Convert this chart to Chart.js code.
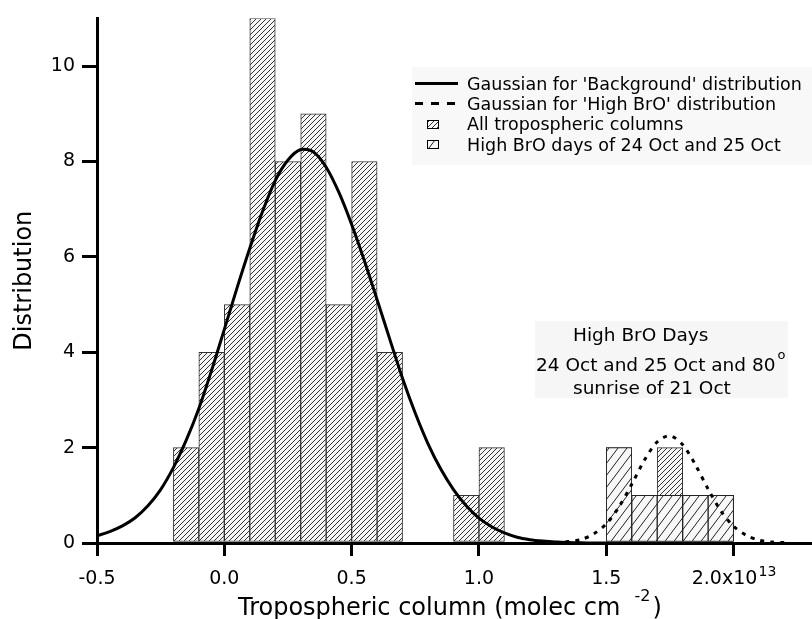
<!DOCTYPE html>
<html>
<head>
<meta charset="utf-8">
<script src="https://cdn.jsdelivr.net/npm/chart.js@4.4.0/dist/chart.umd.min.js"></script>
<style>
    body { margin: 0; background: #fff; }
    #wrap { width: 812px; height: 619px; }
</style>
</head>
<body>
<div id="wrap"><canvas id="histChart" width="812" height="619"></canvas></div>
<script>
// Histogram bins (left edge, 0.1 wide) and counts, units of 1e13 molec cm-2
const allBinStart = [-0.2, -0.1, 0.0, 0.1, 0.2, 0.3, 0.4, 0.5, 0.6, 0.9, 1.0, 1.5, 1.6, 1.7, 1.8, 1.9];
const allCounts   = [2, 4, 5, 11, 8, 9, 5, 8, 4, 1, 2, 2, 1, 2, 1, 1];
const highBinStart = [1.5, 1.6, 1.7, 1.8, 1.9];
const highCounts   = [2, 1, 1, 1, 1];

// Gaussian fits
const bgGaussX = [-0.5, -0.45, -0.4, -0.35, -0.3, -0.25, -0.2, -0.15, -0.1, -0.05, 0.0, 0.05, 0.1, 0.15, 0.2, 0.25, 0.3, 0.35, 0.4, 0.45, 0.5, 0.55, 0.6, 0.65, 0.7, 0.75, 0.8, 0.85, 0.9, 0.95, 1.0, 1.05, 1.1, 1.15, 1.2, 1.25, 1.3, 1.35, 1.4, 1.45, 1.5];
const bgGaussY = [0.15, 0.24, 0.36, 0.53, 0.78, 1.12, 1.58, 2.15, 2.82, 3.62, 4.48, 5.35, 6.18, 6.95, 7.6, 8.03, 8.25, 8.2, 7.88, 7.35, 6.68, 5.92, 5.1, 4.27, 3.45, 2.72, 2.08, 1.55, 1.12, 0.78, 0.52, 0.34, 0.21, 0.12, 0.07, 0.04, 0.02, 0.01, 0.005, 0.0, 0.0];
const highGaussX = [1.3, 1.35, 1.4, 1.45, 1.5, 1.55, 1.6, 1.65, 1.7, 1.75, 1.8, 1.85, 1.9, 1.95, 2.0, 2.05, 2.1, 2.15, 2.2];
const highGaussY = [0.01, 0.03, 0.07, 0.19, 0.4, 0.76, 1.23, 1.74, 2.12, 2.25, 2.06, 1.64, 1.13, 0.67, 0.35, 0.16, 0.06, 0.02, 0.01];

const xTickValues = [-0.5, 0.0, 0.5, 1.0, 1.5, 2.0];
const xTickLabels = ['-0.5', '0.0', '0.5', '1.0', '1.5', '2.0x10   '];
const yTickValues = [0, 2, 4, 6, 8, 10];
const yTickLabels = ['0', '2', '4', '6', '8', '10'];

const FONT = 'DejaVu Sans';
Chart.defaults.font.family = FONT;
Chart.defaults.color = '#000';

// hatch fill: "/" lines on a light background
function makeHatch(w, h, lineColor, bg) {
    const c = document.createElement('canvas');
    c.width = w; c.height = h;
    const g = c.getContext('2d');
    g.fillStyle = bg;
    g.fillRect(0, 0, w, h);
    g.strokeStyle = lineColor;
    g.lineWidth = 1;
    g.beginPath();
    for (const k of [-1, 0, 1]) {
        g.moveTo(k * w, h);
        g.lineTo((k + 1) * w, 0);
    }
    g.stroke();
    return g.createPattern(c, 'repeat');
}
const denseHatch = makeHatch(5, 5, '#333', '#f6f6f6');
const coarseHatch = makeHatch(9, 12, '#222', '#f8f8f8');

const toBars = (starts, counts) => starts.map((s, i) => ({ x: Math.round((s + 0.05) * 100) / 100, y: counts[i] }));
const toLine = (xs, ys) => xs.map((x, i) => ({ x: x, y: ys[i] }));

// legend, annotation box, x-axis title and superscripts
const extrasPlugin = {
    id: 'extras',
    afterDraw(chart) {
        const ctx = chart.ctx;
        const xs = chart.scales.x;
        ctx.save();

        // legend
        ctx.fillStyle = '#f8f8f8';
        ctx.fillRect(412, 67, 400, 98);
        ctx.strokeStyle = '#000';
        ctx.lineWidth = 3;
        ctx.beginPath();
        ctx.moveTo(415, 83.5); ctx.lineTo(458, 83.5);
        ctx.stroke();
        ctx.setLineDash([8, 8]);
        ctx.beginPath();
        ctx.moveTo(415, 103.5); ctx.lineTo(458, 103.5);
        ctx.stroke();
        ctx.setLineDash([]);
        ctx.lineWidth = 1;
        ctx.fillStyle = denseHatch;
        ctx.fillRect(427, 120, 12, 9);
        ctx.strokeRect(427.5, 120.5, 11, 8);
        ctx.fillStyle = coarseHatch;
        ctx.fillRect(427, 140, 12, 9);
        ctx.strokeRect(427.5, 140.5, 11, 8);

        ctx.fillStyle = '#000';
        ctx.font = '17.5px "' + FONT + '"';
        ctx.textBaseline = 'alphabetic';
        ctx.textAlign = 'left';
        ctx.fillText("Gaussian for 'Background' distribution", 467, 90);
        ctx.fillText("Gaussian for 'High BrO' distribution", 467, 110);
        ctx.fillText('All tropospheric columns', 467, 130);
        ctx.fillText('High BrO days of 24 Oct and 25 Oct', 467, 151);

        // annotation box
        ctx.fillStyle = '#f6f6f6';
        ctx.fillRect(535, 321, 253, 77);
        ctx.fillStyle = '#000';
        ctx.font = '18.5px "' + FONT + '"';
        ctx.fillText('High BrO Days', 573, 341);
        const line2 = '24 Oct and 25 Oct and 80';
        ctx.fillText(line2, 536, 371);
        const w2 = ctx.measureText(line2).width;
        ctx.fillText('sunrise of 21 Oct', 573, 394);
        ctx.font = '13px "' + FONT + '"';
        ctx.fillText('o', 536 + w2 + 2, 359);

        // x tick superscript
        ctx.font = '14px "' + FONT + '"';
        ctx.fillText('13', xs.getPixelForValue(2.0) + 25, 576);

        // x-axis title with superscript
        ctx.font = '24px "' + FONT + '"';
        const t1 = 'Tropospheric column (molec cm';
        ctx.fillText(t1, 238, 615);
        const tw = ctx.measureText(t1).width;
        ctx.font = '16px "' + FONT + '"';
        ctx.fillText('-2', 238 + tw + 14, 601);
        ctx.font = '24px "' + FONT + '"';
        ctx.fillText(')', 238 + tw + 32, 615);

        ctx.restore();
    }
};

new Chart(document.getElementById('histChart'), {
    type: 'bar',
    data: {
        datasets: [
            {
                type: 'line',
                label: "Gaussian for 'Background' distribution",
                data: toLine(bgGaussX, bgGaussY),
                borderColor: '#000',
                borderWidth: 3,
                pointRadius: 0,
                tension: 0.3,
                fill: false,
                order: 0
            },
            {
                type: 'line',
                label: "Gaussian for 'High BrO' distribution",
                data: toLine(highGaussX, highGaussY),
                borderColor: '#000',
                borderWidth: 3,
                borderDash: [4, 6],
                pointRadius: 0,
                tension: 0.3,
                fill: false,
                order: 0
            },
            {
                label: 'High BrO days of 24 Oct and 25 Oct',
                data: toBars(highBinStart, highCounts),
                backgroundColor: coarseHatch,
                borderColor: '#222',
                borderWidth: 1,
                borderSkipped: false,
                barPercentage: 1,
                categoryPercentage: 1,
                grouped: false,
                order: 1
            },
            {
                label: 'All tropospheric columns',
                data: toBars(allBinStart, allCounts),
                backgroundColor: denseHatch,
                borderColor: '#333',
                borderWidth: 1,
                borderSkipped: false,
                barPercentage: 1,
                categoryPercentage: 1,
                grouped: false,
                order: 2
            }
        ]
    },
    options: {
        responsive: false,
        animation: false,
        devicePixelRatio: 1,
        layout: { padding: { left: 0, right: 2, top: 13, bottom: 0 } },
        plugins: {
            legend: { display: false },
            tooltip: { enabled: false }
        },
        scales: {
            x: {
                type: 'linear',
                offset: false,
                min: -0.5,
                max: 2.3,
                afterBuildTicks: s => { s.ticks = xTickValues.map(v => ({ value: v })); },
                afterFit: s => { s.height = 76; },
                ticks: {
                    callback: (v, i) => xTickLabels[i],
                    font: { size: 19 },
                    color: '#000',
                    padding: 12,
                    maxRotation: 0,
                    autoSkip: false
                },
                grid: { offset: false, drawOnChartArea: false, drawTicks: true, tickLength: 13, tickWidth: 3, lineWidth: 3, tickColor: '#000' },
                border: { display: true, color: '#000', width: 3 }
            },
            y: {
                min: 0,
                max: 11,
                afterBuildTicks: s => { s.ticks = yTickValues.map(v => ({ value: v })); },
                afterFit: s => { s.width = 97; },
                ticks: {
                    callback: (v, i) => yTickLabels[i],
                    font: { size: 19 },
                    color: '#000',
                    padding: 7
                },
                grid: { drawOnChartArea: false, drawTicks: true, tickLength: 15, tickWidth: 3, lineWidth: 3, tickColor: '#000' },
                border: { display: true, color: '#000', width: 3 },
                title: {
                    display: true,
                    text: 'Distribution',
                    font: { size: 24 },
                    color: '#000',
                    padding: { top: 10, bottom: 0 }
                }
            }
        }
    },
    plugins: [extrasPlugin]
});
</script>
</body>
</html>
